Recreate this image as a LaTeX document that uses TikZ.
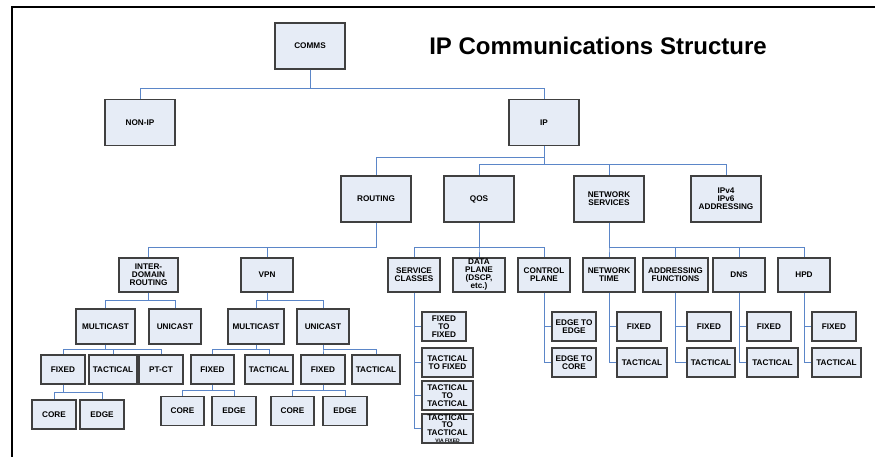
\documentclass[tikz,border=0pt]{standalone}
\usepackage{fontspec}
\setmainfont{Liberation Sans}
\usetikzlibrary{positioning,calc}
\definecolor{boxfill}{RGB}{230,236,246}
\definecolor{boxline}{RGB}{64,64,64}
\definecolor{linkblue}{RGB}{91,134,200}
\tikzset{
   box/.style={draw=boxline, fill=boxfill, line width=1.3pt, inner sep=0pt,
      align=center, font=\fontsize{8.2}{8}\selectfont\bfseries},
   topbox/.style={box, minimum width=70pt, minimum height=46pt},
   midbox/.style={box, minimum width=52pt, minimum height=34pt},
   leafbox/.style={box, minimum width=44pt, minimum height=29pt},
   link/.style={draw=linkblue, line width=0.9pt},
}

\begin{document}
\begin{tikzpicture}[x=1pt,y=-1pt]
   \useasboundingbox (0,0) rectangle (875,457);

   % frame
   \draw[line width=2pt] (12,457) -- (12,7) -- (875,7);

   \node[font=\fontsize{24}{28}\selectfont\bfseries] (title) at (598,46)
   {IP Communications Structure};

   % top levels
   \node[topbox] (c0) at (310,46)    {COMMS};
   \node[topbox] (c1) at (140,122.5) {NON-IP};
   \node[topbox] (c2) at (544,122.5) {IP};

   \node[topbox] (r0) at (376,199) {ROUTING};
   \node[topbox] (q0) at (479,199) {QOS};
   \node[topbox] (s0) at (609,199) {NETWORK\\SERVICES};
   \node[topbox] (a0) at (726,199) {IPv4\\IPv6\\ADDRESSING};

   % routing branch
   \node[midbox, minimum width=59pt] (r1) at (148.5,275) {INTER-\\DOMAIN\\ROUTING};
   \node[midbox]                     (r2) at (267,275)   {VPN};

   \node[midbox, minimum width=59pt, minimum height=35pt] (r11) at (105.5,326.5) {MULTICAST};
   \node[midbox, minimum height=35pt]                     (r12) at (175,326.5)   {UNICAST};
   \node[midbox, minimum width=56pt, minimum height=35pt] (r21) at (256,326.5)   {MULTICAST};
   \node[midbox, minimum height=35pt]                     (r22) at (323,326.5)   {UNICAST};

   \node[leafbox]                    (r111) at (63,369.5)    {FIXED};
   \node[leafbox, minimum width=48pt] (r112) at (113,369.5)   {TACTICAL};
   \node[leafbox]                    (r113) at (161,369.5)   {PT-CT};
   \node[leafbox, minimum width=43pt] (r211) at (212.5,369.5) {FIXED};
   \node[leafbox, minimum width=48pt] (r212) at (269,369.5)   {TACTICAL};
   \node[leafbox]                    (r221) at (323,369.5)   {FIXED};
   \node[leafbox, minimum width=48pt] (r222) at (376,369.5)   {TACTICAL};

   \node[leafbox]                    (r1111) at (54,414.5) {CORE};
   \node[leafbox]                    (r1112) at (102,414.5) {EDGE};
   \node[leafbox, minimum width=43pt] (r2111) at (182.5,411) {CORE};
   \node[leafbox]                    (r2112) at (234,411)   {EDGE};
   \node[leafbox, minimum width=43pt] (r2211) at (292.5,411) {CORE};
   \node[leafbox]                    (r2212) at (345,411)   {EDGE};

   % qos branch
   \node[midbox] (q1) at (414,275) {SERVICE\\CLASSES};
   \node[midbox] (q2) at (479,275) {DATA\\PLANE\\(DSCP,\\etc.)};
   \node[midbox] (q3) at (544,275) {CONTROL\\PLANE};

   \node[leafbox]                    (q11) at (444,326.5)   {FIXED\\TO\\FIXED};
   \node[leafbox, minimum width=51pt] (q12) at (447.5,362.5) {TACTICAL\\TO FIXED};
   \node[leafbox, minimum width=51pt] (q13) at (447.5,395.5) {TACTICAL\\TO\\TACTICAL};
   \node[leafbox, minimum width=51pt, font=\fontsize{8.2}{7.4}\selectfont\bfseries]
   (q14) at (447.5,428.5) {TACTICAL\\TO\\TACTICAL\\{\fontsize{5}{5}\selectfont VIA FIXED}};

   \node[leafbox] (q31) at (574,326.5) {EDGE TO\\EDGE};
   \node[leafbox] (q32) at (574,362.5) {EDGE TO\\CORE};

   % network services branch
   \node[midbox]                     (s1) at (609,275)   {NETWORK\\TIME};
   \node[midbox, minimum width=65pt] (s2) at (675.5,275) {ADDRESSING\\FUNCTIONS};
   \node[midbox]                     (s3) at (739,275)   {DNS};
   \node[midbox]                     (s4) at (804,275)   {HPD};

   \node[leafbox]                    (s11) at (639,326.5)   {FIXED};
   \node[leafbox, minimum width=50pt] (s12) at (642,362.5)   {TACTICAL};
   \node[leafbox]                    (s21) at (709,326.5)   {FIXED};
   \node[leafbox, minimum width=48pt] (s22) at (711,362.5)   {TACTICAL};
   \node[leafbox]                    (s31) at (769,326.5)   {FIXED};
   \node[leafbox, minimum width=51pt] (s32) at (772.5,362.5) {TACTICAL};
   \node[leafbox]                    (s41) at (834,326.5)   {FIXED};
   \node[leafbox, minimum width=49pt] (s42) at (836.5,362.5) {TACTICAL};

   % connectors, top
   \draw[link] (c0.south) -- ++(0,19) -| (c1.north)
               (c0.south) -- ++(0,19) -| (c2.north);
   \draw[link] (c2.south) -- ++(0,11) -| (r0.north);
   \draw[link] (c2.south) -- ++(0,18) -| (q0.north)
               (c2.south) -- ++(0,18) -| (s0.north)
               (c2.south) -- ++(0,18) -| (a0.north);

   % connectors, routing
   \draw[link] (r0.south) -- ++(0,25) -| (r1.north)
               (r0.south) -- ++(0,25) -| (r2.north);
   \draw[link] (r1.south) -- ++(0,8) -| (r11.north)
               (r1.south) -- ++(0,8) -| (r12.north);
   \draw[link] (r2.south) -- ++(0,8) -| (r21.north)
               (r2.south) -- ++(0,8) -| (r22.north);
   \draw[link] (r11.south) -- ++(0,5) -| (r111.north)
               (r11.south) -- ++(0,5) -| (r112.north)
               (r11.south) -- ++(0,5) -| (r113.north);
   \draw[link] (r21.south) -- ++(0,5) -| (r211.north)
               (r21.south) -- ++(0,5) -| (r212.north);
   \draw[link] (r22.south) -- ++(0,5) -| (r221.north)
               (r22.south) -- ++(0,5) -| (r222.north);
   \draw[link] (r111.south) -- ++(0,8) -| (r1111.north)
               (r111.south) -- ++(0,8) -| (r1112.north);
   \draw[link] (r211.south) -- ++(0,6) -| (r2111.north)
               (r211.south) -- ++(0,6) -| (r2112.north);
   \draw[link] (r221.south) -- ++(0,6) -| (r2211.north)
               (r221.south) -- ++(0,6) -| (r2212.north);

   % connectors, qos
   \draw[link] (q0.south) -- ++(0,25) -| (q1.north)
               (q0.south) -- ++(0,25) -| (q2.north)
               (q0.south) -- ++(0,25) -| (q3.north);
   \draw[link] (q1.south) |- (q11.west)  (q1.south) |- (q12.west)
               (q1.south) |- (q13.west)  (q1.south) |- (q14.west);
   \draw[link] (q3.south) |- (q31.west)  (q3.south) |- (q32.west);

   % connectors, network services
   \draw[link] (s0.south) -- ++(0,25) -| (s1.north)
               (s0.south) -- ++(0,25) -| (s2.north)
               (s0.south) -- ++(0,25) -| (s3.north)
               (s0.south) -- ++(0,25) -| (s4.north);
   \draw[link] (s1.south) |- (s11.west)  (s1.south) |- (s12.west);
   \draw[link] (s2.south) |- (s21.west)  (s2.south) |- (s22.west);
   \draw[link] (s3.south) |- (s31.west)  (s3.south) |- (s32.west);
   \draw[link] (s4.south) |- (s41.west)  (s4.south) |- (s42.west);
\end{tikzpicture}
\end{document}
